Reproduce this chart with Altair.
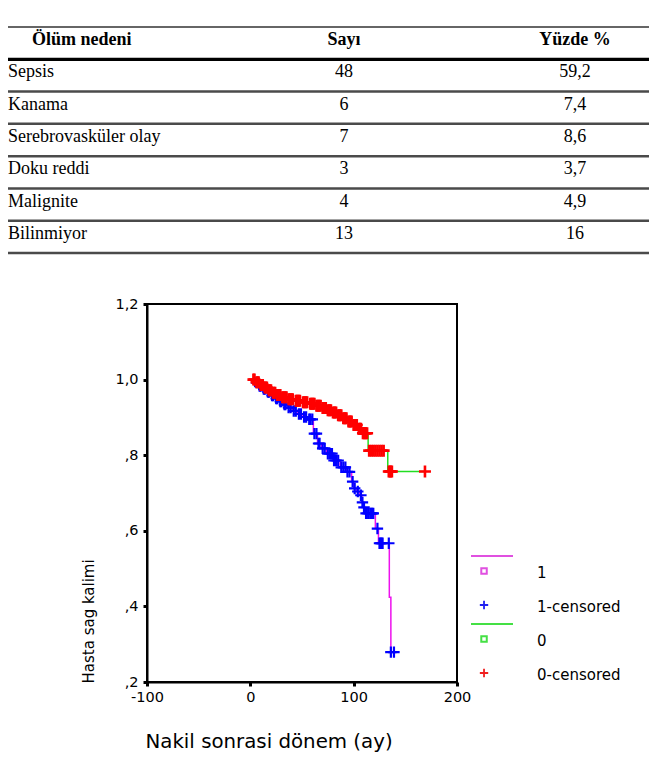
import altair as alt
import pandas as pd

# ---------------- table ----------------
table_headers = ["Ölüm nedeni", "Sayı", "Yüzde %"]
causes = ["Sepsis", "Kanama", "Serebrovasküler olay", "Doku reddi", "Malignite", "Bilinmiyor"]
counts = [48, 6, 7, 3, 4, 13]
percents = [59.2, 7.4, 8.6, 3.7, 4.9, 16]

# ---------------- survival curves ----------------
# group "1": step curve (magenta) and censored marks (blue)
g1_time = [2, 4, 8, 12, 16, 20, 24, 28, 32, 36, 41, 46, 51, 56, 61, 65, 69, 74, 80, 87,
           93, 98, 100, 103, 106, 108, 109, 111, 121, 124, 134.5, 136, 139]
g1_surv = [1.0, .992, .983, .975, .967, .958, .950, .942, .934, .926, .917, .909, .901, .895,
           .857, .831, .818, .804, .786, .768, .756, .730, .712, .704, .694, .675, .662, .646,
           .606, .567, .424, .279, .279]
g1_cens_time = [6, 9, 10, 13, 14, 17, 18, 21, 22, 25, 26, 29, 30, 33, 34, 37, 39, 42, 44, 47,
                49, 52, 54, 57, 58, 60, 62, 64, 66, 67, 70, 72, 75, 77, 79, 81, 83, 85, 88, 90,
                92, 94, 96, 99, 101, 104, 107, 108.5, 110, 112, 114, 116, 117, 118, 119, 123,
                125, 126, 127, 128, 134, 136, 139]
g1_cens_surv = [.992, .983, .983, .975, .975, .967, .967, .958, .958, .950, .950, .942, .942,
                .934, .934, .926, .926, .917, .917, .909, .909, .901, .901, .895, .895, .895,
                .857, .857, .831, .831, .818, .818, .804, .804, .804, .786, .786, .786, .768,
                .768, .768, .756, .756, .730, .712, .704, .694, .675, .662, .646, .646, .646,
                .646, .646, .646, .606, .567, .567, .567, .567, .567, .279, .279]

# group "0": step curve (green) and censored marks (red)
g0_time = [2, 5, 9, 13, 17, 21, 25, 30, 36, 43, 50, 57, 63, 69, 74, 79, 84, 89, 94, 99,
           104, 108, 114, 133, 169]
g0_surv = [1.0, .993, .986, .979, .972, .965, .959, .953, .948, .944, .940, .936, .931, .925,
           .919, .913, .906, .898, .889, .880, .870, .858, .812, .757, .757]
g0_cens_time = [3, 4, 6, 7, 8, 10, 11, 12, 14, 15, 16, 18, 19, 20, 22, 23, 24, 26, 27, 28, 29,
                31, 32, 33, 34, 35, 37, 38, 39, 40, 41, 44, 45, 46, 47, 48, 51, 52, 53, 54, 55,
                58, 59, 60, 61, 62, 64, 65, 66, 67, 68, 70, 71, 72, 73, 75, 76, 77, 78, 80, 81,
                82, 83, 85, 86, 87, 88, 90, 91, 92, 93, 95, 96, 97, 98, 100, 101, 102, 103, 105,
                106, 107, 109, 110, 111, 112, 113, 115, 117, 119, 121, 123, 125, 127, 129, 134,
                135, 136, 137, 169]
g0_cens_surv = [1.0, 1.0, .993, .993, .993, .986, .986, .986, .979, .979, .979, .972, .972,
                .972, .965, .965, .965, .959, .959, .959, .959, .953, .953, .953, .953, .953,
                .948, .948, .948, .948, .948, .944, .944, .944, .944, .944, .940, .940, .940,
                .940, .940, .936, .936, .936, .936, .936, .931, .931, .931, .931, .931, .925,
                .925, .925, .925, .919, .919, .919, .919, .913, .913, .913, .913, .906, .906,
                .906, .906, .898, .898, .898, .898, .889, .889, .889, .889, .880, .880, .880,
                .880, .870, .870, .870, .858, .858, .858, .858, .858, .812, .812, .812, .812,
                .812, .812, .812, .812, .757, .757, .757, .757, .757]

legend_labels = ["1", "1-censored", "0", "0-censored"]
x_domain = [-100, 200]
y_domain = [0.2, 1.2]
x_ticks = [-100, 0, 100, 200]
y_ticks = [0.2, 0.4, 0.6, 0.8, 1.0, 1.2]

W, H = 641, 745
CROSS = "M-1,0H1M0,-1V1"
SANS = "DejaVu Sans"
SERIF = "Liberation Serif"

# ---------------- table layer ----------------
rows_long = []
for i, (c, n, p) in enumerate(zip(causes, counts, percents)):
    rows_long.append({"r": i + 1, "c": 0, "txt": c})
    rows_long.append({"r": i + 1, "c": 1, "txt": str(n)})
    rows_long.append({"r": i + 1, "c": 2, "txt": f"{p:g}".replace(".", ",")})
body_df = pd.DataFrame(rows_long)
head_df = pd.DataFrame({"r": [0, 0, 0], "c": [0, 1, 2], "txt": table_headers})
rule_df = pd.DataFrame({"b": [k - 0.5 for k in range(len(causes) + 2)]})

col_scale = alt.Scale(domain=[0, 1, 2], range=[0, 336, 567], zero=False, nice=False)
row_scale = alt.Scale(domain=[-0.5, 6.5], range=[19, 245], zero=False, nice=False)


def table_text(df, col_filter, align, bold, dx=0):
    return alt.Chart(df).transform_filter(col_filter).mark_text(
        align=align, baseline="middle", font=SERIF, fontSize=18,
        fontWeight="bold" if bold else "normal", color="black", dx=dx, dy=-3
    ).encode(
        x=alt.X("c:Q", scale=col_scale, axis=None),
        y=alt.Y("r:Q", scale=row_scale, axis=None),
        text="txt:N",
    )


rules = alt.Chart(rule_df).transform_filter("datum.b > 0").mark_rule(
    color="#4a4a4a", strokeWidth=2.5
).encode(y=alt.Y("b:Q", scale=row_scale, axis=None))
rule_top = alt.Chart(rule_df).transform_filter("datum.b < 0").mark_rule(
    color="#666666", strokeWidth=1.8
).encode(y=alt.Y("b:Q", scale=row_scale, axis=None))
rule_head = alt.Chart(rule_df).transform_filter("datum.b == 0.5").mark_rule(
    color="black", strokeWidth=3.2
).encode(y=alt.Y("b:Q", scale=row_scale, axis=None))

table = alt.layer(
    rules,
    rule_top,
    rule_head,
    table_text(head_df, "datum.c == 0", "left", True, dx=24),
    table_text(head_df, "datum.c > 0", "center", True),
    table_text(body_df, "datum.c == 0", "left", False),
    table_text(body_df, "datum.c > 0", "center", False),
)

# ---------------- Kaplan-Meier layer ----------------
x_km = alt.Scale(domain=x_domain, range=[139, 449], zero=False, nice=False)
y_km = alt.Scale(domain=y_domain, range=[674, 296], zero=False, nice=False)

x_axis = alt.Axis(
    values=x_ticks, labelExpr="toString(datum.value)", grid=False,
    offset=-(H - 674), labelFlush=False, labelOverlap=False,
    labelFont=SANS, labelFontSize=14.5, labelColor="black", labelPadding=4,
    tickSize=4, tickWidth=3, tickColor="black", domainColor="black", domainWidth=2,
    title="Nakil sonrasi dönem (ay)", titleFont=SANS, titleFontSize=19.8,
    titleFontWeight="normal", titleColor="black", titleX=137, titleY=65,
    titleAlign="left", titleBaseline="alphabetic",
)
y_axis = alt.Axis(
    values=y_ticks, grid=False, offset=-139, labelFlush=False, labelOverlap=False,
    labelExpr="datum.value >= 1 ? replace(format(datum.value, '.1f'), '.', ',') : replace(format(datum.value, '.1f'), '0.', ',')",
    labelFont=SANS, labelFontSize=14.5, labelColor="black", labelPadding=5,
    tickSize=4, tickWidth=3, tickColor="black", domainColor="black", domainWidth=2,
    title="Hasta sag kalimi", titleFont=SANS, titleFontSize=15, titleFontWeight="normal",
    titleColor="black", titleX=-54, titleY=675, titleAngle=270, titleAlign="left",
    titleBaseline="alphabetic",
)

frame_df = pd.DataFrame({"x0": [x_domain[0]], "x1": [x_domain[1]],
                         "y0": [y_domain[0]], "y1": [y_domain[1]]})
frame = alt.Chart(frame_df).mark_rect(fillOpacity=0, stroke="black", strokeWidth=2).encode(
    x=alt.X("x0:Q", scale=x_km, axis=x_axis), x2="x1:Q",
    y=alt.Y("y0:Q", scale=y_km, axis=y_axis), y2="y1:Q",
)


def step_line(times, surv, color):
    df = pd.DataFrame({"t": times, "s": surv})
    return alt.Chart(df).mark_line(interpolate="step-after", color=color, strokeWidth=1.5).encode(
        x=alt.X("t:Q", scale=x_km, axis=x_axis),
        y=alt.Y("s:Q", scale=y_km, axis=y_axis),
    )


def cens_marks(times, surv, color, size, sw):
    df = pd.DataFrame({"t": times, "s": surv})
    return alt.Chart(df).mark_point(
        shape=CROSS, filled=False, size=size, strokeWidth=sw, color=color, opacity=1
    ).encode(
        x=alt.X("t:Q", scale=x_km, axis=x_axis),
        y=alt.Y("s:Q", scale=y_km, axis=y_axis),
    )


km = alt.layer(
    frame,
    step_line(g0_time, g0_surv, "#22dd22"),
    step_line(g1_time, g1_surv, "#ee11ee"),
    cens_marks(g1_cens_time, g1_cens_surv, "#0000ff", 130, 2.2),
    cens_marks(g0_cens_time, g0_cens_surv, "#ff0000", 144, 2.6),
)

# ---------------- legend layer ----------------
legend_df = pd.DataFrame({"label": legend_labels, "i": list(range(len(legend_labels)))})
leg_x = alt.Scale(domain=[0, 1], range=[463, 505], zero=False, nice=False)
leg_y = alt.Scale(domain=[0, 3], range=[563, 665], zero=False, nice=False)
leg_color = alt.Scale(domain=legend_labels, range=["#e050e0", "#2020f0", "#44e044", "#f02020"])
color_enc = alt.Color("label:N", scale=leg_color, legend=None)
y_enc = alt.Y("i:Q", scale=leg_y, axis=None)
is_curve = alt.FieldOneOfPredicate(field="label", oneOf=["1", "0"])
is_cens = alt.FieldOneOfPredicate(field="label", oneOf=["1-censored", "0-censored"])

leg_lines = alt.Chart(legend_df).transform_filter(is_curve).mark_rule(
    strokeWidth=2, yOffset=-15
).encode(
    x=alt.XDatum(0, type="quantitative", scale=leg_x, axis=None),
    x2=alt.X2Datum(1),
    y=y_enc, color=color_enc,
)
leg_squares = alt.Chart(legend_df).transform_filter(is_curve).mark_point(
    shape="square", filled=False, size=30, strokeWidth=2, opacity=1
).encode(
    x=alt.XDatum(0.31, type="quantitative", scale=leg_x, axis=None),
    y=y_enc, color=color_enc,
)
leg_cross = alt.Chart(legend_df).transform_filter(is_cens).mark_point(
    shape=CROSS, filled=False, size=70, strokeWidth=1.8, opacity=1
).encode(
    x=alt.XDatum(0.31, type="quantitative", scale=leg_x, axis=None),
    y=y_enc, color=color_enc,
)
leg_text = alt.Chart(legend_df).mark_text(
    align="left", baseline="middle", font=SANS, fontSize=15, color="black", dy=2
).encode(
    x=alt.XDatum(1.571, type="quantitative", scale=leg_x, axis=None),
    y=y_enc, text="label:N",
)
legend = alt.layer(leg_lines, leg_squares, leg_cross, leg_text)

chart = alt.layer(table, km, legend).resolve_scale(
    x="independent", y="independent", color="independent"
).properties(
    width=W, height=H, autosize=alt.AutoSizeParams(type="none"), padding=0
).configure_view(stroke="transparent")

chart.save("out.html", embed_options={"renderer": "svg", "actions": False})
